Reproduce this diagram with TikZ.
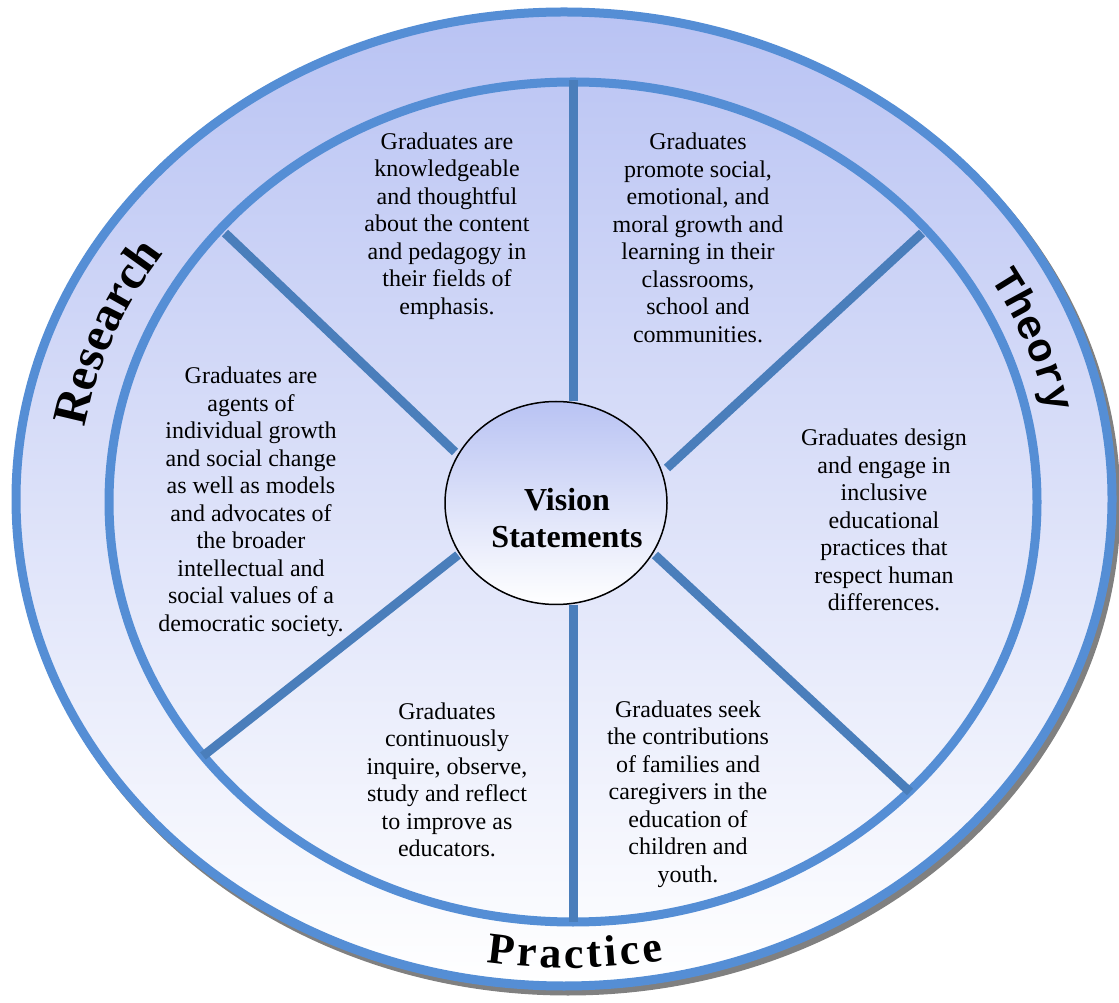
\documentclass[tikz,border=0pt]{standalone}
\usepackage{fontspec}
\setmainfont{Liberation Serif}
\newfontfamily\monofam{Liberation Mono}
\usepackage{tikz}
\usetikzlibrary{shapes.geometric,decorations.text}
\definecolor{ringblue}{RGB}{85,142,213}
\definecolor{spokeblue}{RGB}{74,126,187}
\definecolor{lilac}{RGB}{185,195,243}
\newcommand\wordfont{\bfseries\fontsize{49}{49}\selectfont}
\newcommand\practfont{\bfseries\fontsize{44}{44}\selectfont}
\newcommand\monoword{\monofam\bfseries\fontsize{41}{41}\selectfont}

\begin{document}
\begin{tikzpicture}[x=1pt, y=1pt,
	ring/.style={draw=ringblue, line width=9pt},
	spoke/.style={draw=spokeblue, line width=9pt},
	stmt/.style={align=center, inner sep=0pt, font=\fontsize{24}{27.5}\selectfont},
	hub/.style={ellipse, draw=black, line width=1.5pt, minimum width=222pt, minimum height=203pt, top color=lilac, bottom color=white, inner sep=0pt},
	ringword/.style={decorate, decoration={text along path, text align=center, text={#1}}}]
	\useasboundingbox (0,0) rectangle (1119,1002);
	% rings
	\draw[line width=9pt, gray] (568,498) ellipse [x radius=548, y radius=487];
	\draw[ring, top color=lilac, bottom color=white] (564,503) ellipse [x radius=548, y radius=487];
	\draw[ring] (573,500) ellipse [x radius=464, y radius=420];
	\coordinate (mid) at (568,501);
	% spoke ends
	\coordinate (n-out) at (573,922);
	\coordinate (n-in) at (573,601);
	\coordinate (s-in) at (573,397);
	\coordinate (s-out) at (573,80);
	\coordinate (nw-out) at (225,769);
	\coordinate (nw-in) at (455,550);
	\coordinate (ne-out) at (922,769);
	\coordinate (ne-in) at (667,534);
	\coordinate (sw-in) at (458,447);
	\coordinate (sw-out) at (203,246);
	\coordinate (se-in) at (655,447);
	\coordinate (se-out) at (910,210);
	\draw[spoke] (n-out) -- (n-in);
	\draw[spoke] (s-in) -- (s-out);
	\draw[spoke] (nw-out) -- (nw-in);
	\draw[spoke] (ne-out) -- (ne-in);
	\draw[spoke] (sw-in) -- (sw-out);
	\draw[spoke] (se-in) -- (se-out);
	% hub
	\node[hub] (vision) at (556,499) {};
	\node[align=center, font=\bfseries\fontsize{32}{37}\selectfont] (vtitle) at ([shift={(11,-15)}]vision.center) {Vision\\Statements};
	% statements
	\node[stmt] (content) at (447,776) {Graduates are\\knowledgeable\\and thoughtful\\about the content\\and pedagogy in\\their fields of\\emphasis.};
	\node[stmt] (growth) at (698,764) {Graduates\\promote social,\\emotional, and\\moral growth and\\learning in their\\classrooms,\\school and\\communities.};
	\node[stmt] (agents) at (251,500) {Graduates are\\agents of\\individual growth\\and social change\\as well as models\\and advocates of\\the broader\\intellectual and\\social values of a\\democratic society.};
	\node[stmt] (inclusive) at (884,482) {Graduates design\\and engage in\\inclusive\\educational\\practices that\\respect human\\differences.};
	\node[stmt] (inquire) at (447,222) {Graduates\\continuously\\inquire, observe,\\study and reflect\\to improve as\\educators.};
	\node[stmt] (families) at (688,208) {Graduates seek\\the contributions\\of families and\\caregivers in the\\education of\\children and\\youth.};
	% ring words
	\path[ringword={|\wordfont|Research}] ([shift={(173:490 and 438)}]mid) arc[start angle=173, end angle=143, x radius=490, y radius=438];
	\path[ringword={|\monoword|Theory}] ([shift={(32:490 and 438)}]mid) arc[start angle=32, end angle=10, x radius=490, y radius=438];
	\path[decorate, decoration={text along path, text align=fit to path, text={|\practfont|Practice}}] ([shift={(261:523 and 467)}]mid) arc[start angle=261, end angle=280.5, x radius=523, y radius=467];
\end{tikzpicture}
\end{document}
